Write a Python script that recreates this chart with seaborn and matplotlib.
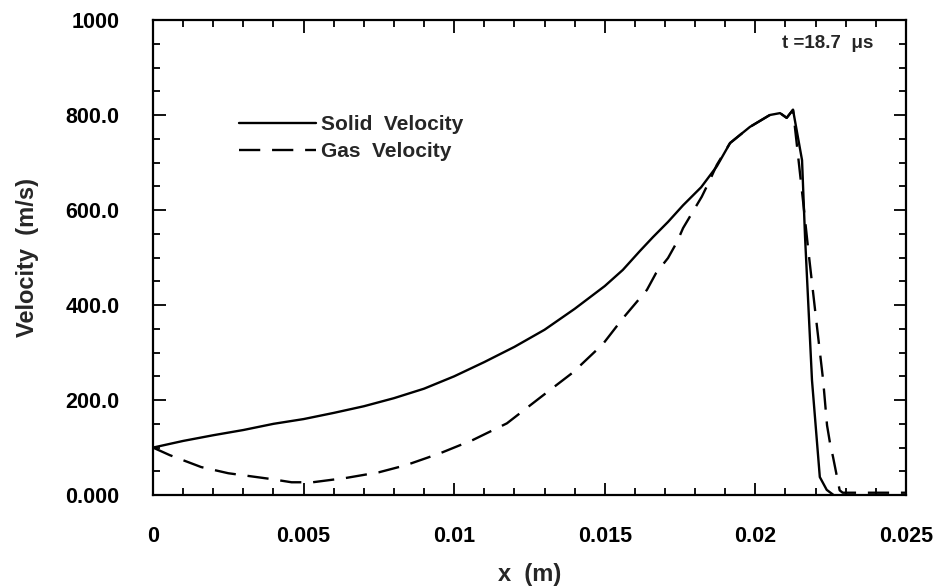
import numpy as np
import pandas as pd
import matplotlib
matplotlib.use("Agg")
import matplotlib.pyplot as plt
from matplotlib.ticker import MultipleLocator, FixedLocator
import seaborn as sns

# ---- data ----
solid_x = [0, 0.001, 0.002, 0.003, 0.004, 0.005, 0.006, 0.007, 0.008, 0.009,
           0.0100, 0.0110, 0.0120, 0.0130, 0.0140, 0.0150, 0.0156, 0.01617,
           0.0166, 0.0171, 0.0176, 0.0182, 0.01872, 0.01916, 0.01982, 0.02048,
           0.02082, 0.02104, 0.02125, 0.02155, 0.02165, 0.02188, 0.02214,
           0.02237, 0.0226]
solid_v = [100, 114, 126, 137, 150, 160, 173, 187, 204, 224,
           250, 280, 312, 348, 392, 440, 474, 514,
           543, 575, 610, 648, 692, 741, 775, 800,
           804, 794, 811, 705, 543, 242, 38,
           11, 0]

gas_x = [0, 0.00056, 0.0016, 0.0025, 0.0039, 0.0046, 0.0053, 0.0064, 0.0075,
         0.0084, 0.00953, 0.01062, 0.01175, 0.01285, 0.01394, 0.01494, 0.0156,
         0.016, 0.0164, 0.0167, 0.0171, 0.0174, 0.0176, 0.0179, 0.01822,
         0.01849, 0.01872, 0.01916, 0.01982, 0.02048, 0.02082, 0.02104,
         0.02125, 0.02158, 0.02175, 0.0220, 0.02225, 0.02238, 0.02248,
         0.02258, 0.02268, 0.0228, 0.0229, 0.025]
gas_v = [100, 84, 59, 46, 34, 27, 27, 36, 48,
         63, 88, 116, 151, 205, 258, 318, 372,
         402, 432, 467, 499, 533, 562, 594, 628,
         663, 695, 741, 775, 800, 804, 794,
         811, 621, 520, 380, 242, 147, 109,
         80, 48, 10, 5, 5]

x_ticks = [0, 0.005, 0.01, 0.015, 0.02, 0.025]
x_tick_labels = ["0", "0.005", "0.01", "0.015", "0.02", "0.025"]
y_ticks = [0, 200, 400, 600, 800, 1000]
y_tick_labels = ["0.000", "200.0", "400.0", "600.0", "800.0", "1000"]

df = pd.concat([
    pd.DataFrame({"x": solid_x, "v": solid_v, "series": "Solid  Velocity"}),
    pd.DataFrame({"x": gas_x, "v": gas_v, "series": "Gas  Velocity"}),
], ignore_index=True)

sns.set_theme(style="ticks")
plt.rcParams["font.family"] = ["Liberation Sans", "DejaVu Sans"]
plt.rcParams["font.weight"] = "bold"

fig = plt.figure(figsize=(9.33, 5.88), dpi=100)
ax = fig.add_axes([0.164, 0.158, 0.807, 0.808])

sns.lineplot(data=df, x="x", y="v", hue="series", style="series",
             palette={"Solid  Velocity": "black", "Gas  Velocity": "black"},
             dashes={"Solid  Velocity": "", "Gas  Velocity": (9, 5)},
             linewidth=1.7, sort=False, estimator=None, ax=ax)

ax.set_xlim(0, 0.025)
ax.set_ylim(0, 1000)

ax.xaxis.set_major_locator(FixedLocator(x_ticks))
ax.set_xticklabels(x_tick_labels)
ax.xaxis.set_minor_locator(MultipleLocator(0.001))
ax.yaxis.set_major_locator(FixedLocator(y_ticks))
ax.set_yticklabels(y_tick_labels)
ax.yaxis.set_minor_locator(MultipleLocator(50))

ax.tick_params(axis="both", which="both", direction="in", top=True, right=True,
               colors="black", width=1.3)
ax.tick_params(axis="both", which="major", length=9, labelsize=15.5)
ax.tick_params(axis="both", which="minor", length=5)
ax.tick_params(axis="x", which="major", pad=22)
ax.tick_params(axis="y", which="major", pad=24)
for lab in ax.get_xticklabels() + ax.get_yticklabels():
    lab.set_fontweight("bold")

for s in ax.spines.values():
    s.set_linewidth(1.6)
    s.set_color("black")

ax.set_xlabel("x  (m)", fontsize=17, fontweight="bold", labelpad=12)
ax.set_ylabel("Velocity  (m/s)", fontsize=17, fontweight="bold", labelpad=19)

leg = ax.legend(loc="upper left", bbox_to_anchor=(0.100, 0.822), frameon=False,
                handlelength=3.7, handletextpad=0.25, labelspacing=0.38,
                borderpad=0, prop={"weight": "bold", "size": 15})

ax.text(0.0209, 950, "t =18.7  μs", fontsize=13.5, fontweight="bold",
        ha="left", va="center")

fig.savefig("out.png", dpi=100)
